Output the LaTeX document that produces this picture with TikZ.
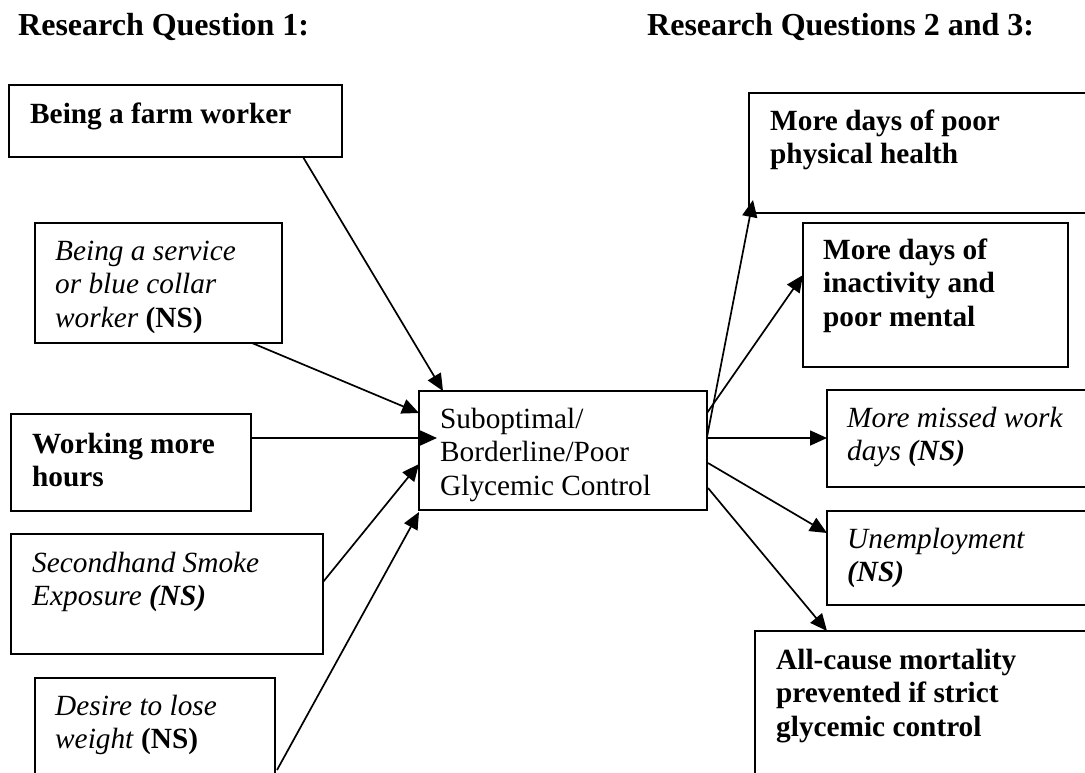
\documentclass[tikz,border=0pt]{standalone}
\usepackage{fontspec}
\setmainfont{Liberation Serif}
\usetikzlibrary{arrows.meta,calc}
\tikzset{
  box/.style={draw, line width=2pt, rectangle, anchor=north west, inner sep=0pt, outer sep=0pt},
  txt/.style={anchor=north west, inner sep=0pt, align=left, font=\fontsize{29.3}{33.5}\selectfont},
  ttl/.style={anchor=base west, inner sep=0pt, font=\fontsize{32}{36}\selectfont\bfseries},
  arr/.style={-{Triangle[length=17pt,width=15pt]}, line width=1.7pt},
}
\begin{document}
\begin{tikzpicture}[x=1pt,y=-1pt]
\useasboundingbox (0,0) rectangle (1085,772);
\clip (0,0) rectangle (1085,772);

% headings
\node[ttl] (h1) at (18,35) {Research Question 1:};
\node[ttl] (h2) at (647,35) {Research Questions 2 and 3:};

% predictor boxes
\node[box, minimum width=333pt, minimum height=72pt]  (farm)    at (9,85)   {};
\node[box, minimum width=247pt, minimum height=120pt] (service) at (35,223) {};
\node[box, minimum width=240pt, minimum height=97pt]  (hours)   at (11,414) {};
\node[box, minimum width=312pt, minimum height=120pt] (smoke)   at (11,534) {};
\node[box, minimum width=240pt, minimum height=140pt] (desire)  at (35,678) {};

% central outcome
\node[box, minimum width=288pt, minimum height=119pt] (center)  at (419,391) {};

% consequence boxes
\node[box, minimum width=360pt, minimum height=120pt] (r1) at (749,93)  {};
\node[box, minimum width=265pt, minimum height=144pt] (r2) at (803,223) {};
\node[box, minimum width=280pt, minimum height=97pt]  (r3) at (827,390) {};
\node[box, minimum width=280pt, minimum height=94pt]  (r4) at (827,511) {};
\node[box, minimum width=360pt, minimum height=180pt] (r5) at (755,631) {};

% box texts
\node[txt] (tfarm) at (30,99.5) {\strut\textbf{Being a farm worker}};
\node[txt] (tservice) at (55,236.5) {\strut\textit{Being a service}\\\textit{or blue collar}\\\textit{worker} \textbf{(NS)}};
\node[txt] (thours) at (32,429.5) {\strut\textbf{Working more}\\\textbf{hours}};
\node[txt] (tsmoke) at (32,548.5) {\strut\textit{Secondhand Smoke}\\\textit{Exposure \textbf{(NS)}}};
\node[txt] (tdesire) at (55,691.5) {\strut\textit{Desire to lose}\\\textit{weight} \textbf{(NS)}};
\node[txt] (tcenter) at (440,404.5) {\strut Suboptimal/\\Borderline/Poor\\Glycemic Control};
\node[txt] (tr1) at (770,106.5) {\strut\textbf{More days of poor}\\\textbf{physical health}};
\node[txt] (tr2) at (823,235.5) {\strut\textbf{More days of}\\\textbf{inactivity and}\\\textbf{poor mental}};
\node[txt] (tr3) at (847,403.5) {\strut\textit{More missed work}\\\textit{days \textbf{(NS)}}};
\node[txt] (tr4) at (847,524.5) {\strut\textit{Unemployment}\\\textit{\textbf{(NS)}}};
\node[txt] (tr5) at (776,645.5) {\strut\textbf{All-cause mortality}\\\textbf{prevented if strict}\\\textbf{glycemic control}};

% predictors -> glycemic control
\draw[arr] ($(farm.south west)+(294,0)$)   -- ($(center.north west)+(24,0)$);
\draw[arr] ($(service.south west)+(217,0)$) -- ($(center.north west)+(0,22)$);
\draw[arr] ($(hours.north east)+(0,24)$)   -- ($(center.north west)+(18,47)$);
\draw[arr] ($(smoke.north east)+(0,48)$)   -- ($(center.north west)+(0,73)$);
\draw[arr] ($(desire.north east)+(2,92)$)  -- ($(center.south west)+(0,2)$);

% glycemic control -> consequences
\draw[arr] ($(center.north east)+(0,46)$) -- ($(r1.south west)+(4,-13)$);
\draw[arr] ($(center.north east)+(0,22)$) -- ($(r2.north west)+(0,52)$);
\draw[arr] ($(center.north east)+(0,47)$) -- ($(r3.north west)+(0,48)$);
\draw[arr] ($(center.north east)+(1,72)$) -- ($(r4.north west)+(0,22)$);
\draw[arr] ($(center.north east)+(1,97)$) -- ($(r5.north west)+(72,0)$);
\end{tikzpicture}
\end{document}
